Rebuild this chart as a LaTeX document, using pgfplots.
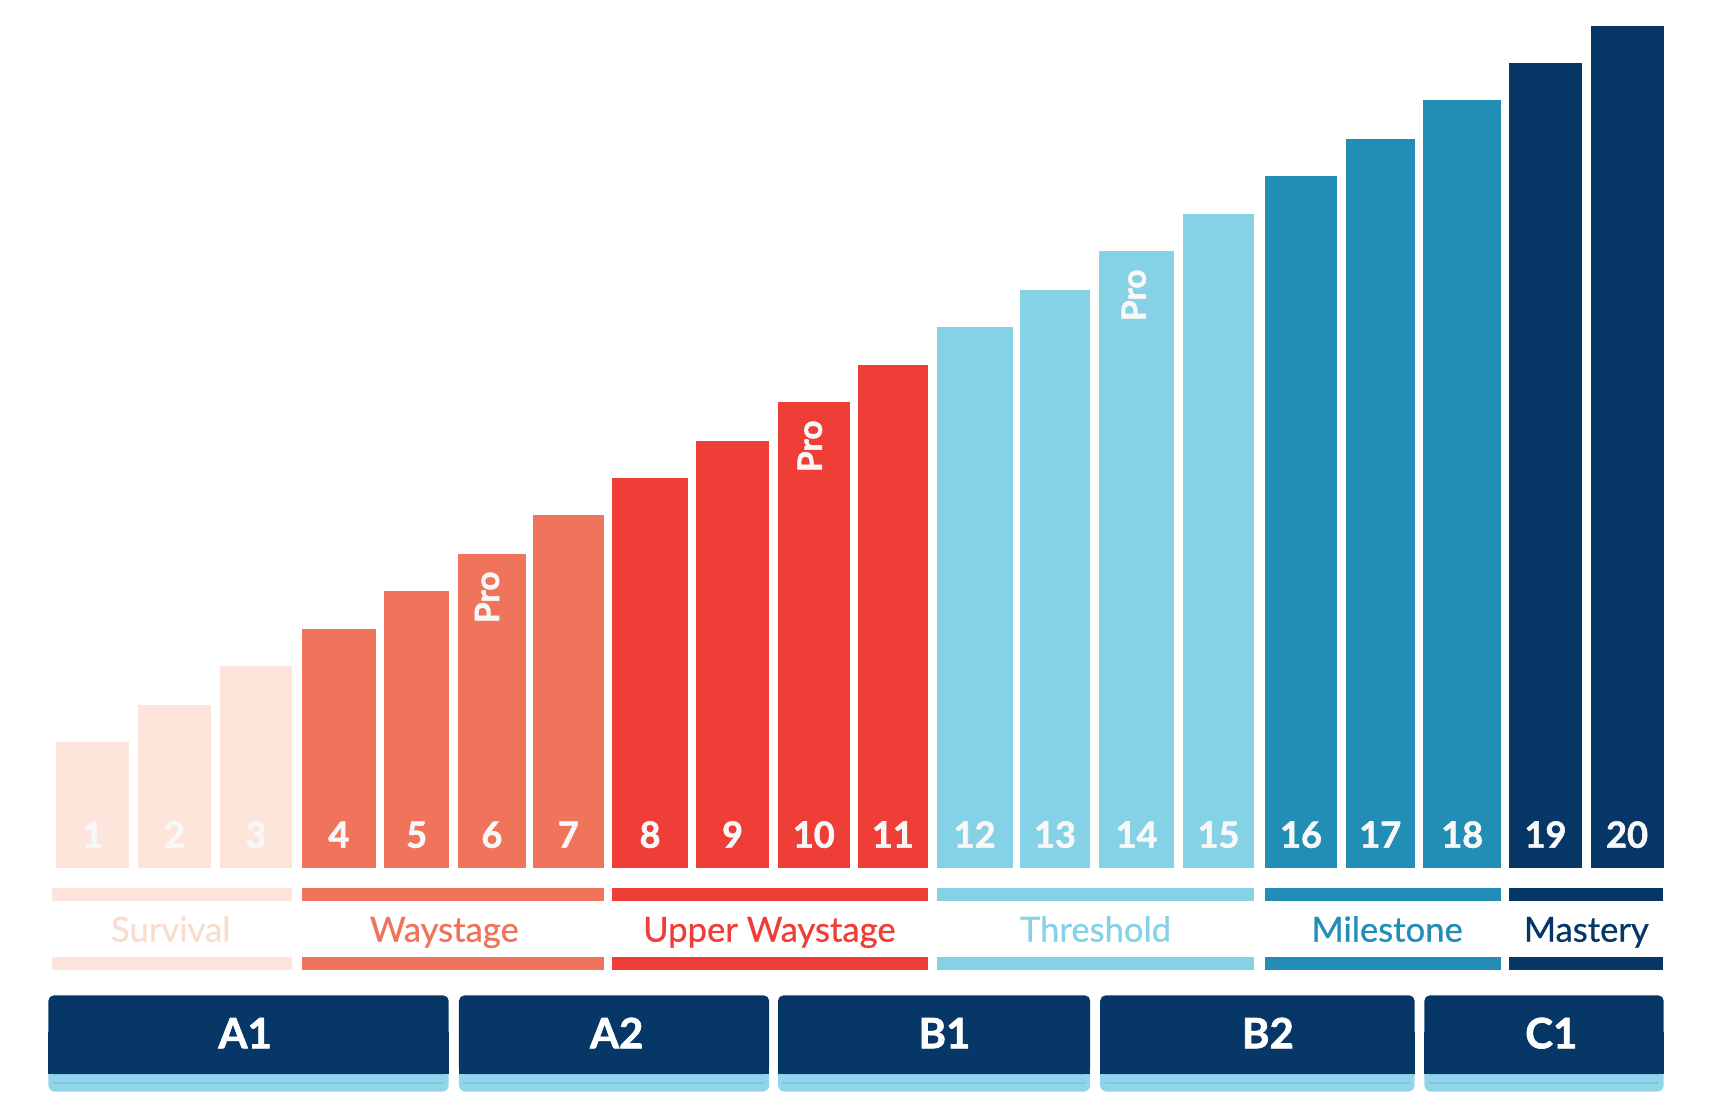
\documentclass[border=0pt]{standalone}
\usepackage{pgfplots}
\pgfplotsset{compat=1.18}
\usepackage{fontspec}
\setmainfont{Lato}
\newfontfamily\heavyfont[FakeBold=1.6]{Lato Bold}
\newfontfamily\medfont[FakeBold=0.7]{Lato}
\definecolor{surv}{HTML}{FDE5DB}
\definecolor{survtext}{HTML}{FADCCF}
\definecolor{way}{HTML}{F0745C}
\definecolor{upper}{HTML}{EE3E37}
\definecolor{thresh}{HTML}{85D1E5}
\definecolor{mile}{HTML}{228EB6}
\definecolor{mast}{HTML}{063767}
\definecolor{strip}{HTML}{92D5EB}
\definecolor{stripline}{HTML}{7CC9E3}
\definecolor{numw}{HTML}{F8F8F8}
\newcommand{\onebar}[4]{\addplot[ybar, bar shift=0pt, bar width=#3, fill=#4, draw=none] coordinates {(#1,#2)};}
\newcommand{\numfont}{\heavyfont\fontsize{9.4}{10}\selectfont}
\newcommand{\grpfont}{\medfont\fontsize{9.0}{10}\selectfont}
\newcommand{\ceffont}{\heavyfont\fontsize{10.9}{12}\selectfont}
\newcommand{\profont}{\heavyfont\fontsize{8.7}{10}\selectfont}
\newcommand{\cefbox}[3]{%
  \fill[strip, rounded corners=0.6mm] (axis cs:#1,-204.7) rectangle (axis cs:#2,-182);
  \draw[stripline, line width=0.24mm] (axis cs:#1+4,-196.8) -- (axis cs:#2-4,-196.8);
  \fill[mast, rounded corners=0.5mm] (axis cs:#1,-116.7) rectangle (axis cs:#2,-188.6);
  \fill[mast] (axis cs:#1,-150) rectangle (axis cs:#2,-188.6);
}
\begin{document}
\begin{tikzpicture}
\begin{axis}[
  scale only axis, width=156.8mm, height=102.2mm,
  xmin=0, xmax=1568, ymin=-229.2, ymax=792.8,
  hide axis, clip=false,
]
\path (axis cs:0,-229.2) rectangle (axis cs:1568,792.8);
% bars: centre, height, width, colour
\onebar{84.7}{115}{67.2}{surv}
\onebar{159.4}{149}{66.7}{surv}
\onebar{233.9}{184}{66.2}{surv}
\onebar{309.6}{218}{67.2}{way}
\onebar{380.8}{253}{59.8}{way}
\onebar{449.5}{287}{61.9}{way}
\onebar{519.4}{322}{64.7}{way}
\onebar{594.0}{356}{68.9}{upper}
\onebar{669.4}{390}{66.5}{upper}
\onebar{743.6}{425}{66.2}{upper}
\onebar{815.9}{459}{63.9}{upper}
\onebar{890.6}{494}{69.3}{thresh}
\onebar{964.0}{528}{64.3}{thresh}
\onebar{1038.5}{563}{68.5}{thresh}
\onebar{1113.4}{597}{64.8}{thresh}
\onebar{1188.8}{632}{66.4}{mile}
\onebar{1261.2}{666}{62.7}{mile}
\onebar{1336.1}{701}{70.8}{mile}
\onebar{1412.2}{735}{66.7}{mast}
\onebar{1486.7}{769}{66.7}{mast}
% level numbers
\begin{scope}[every node/.style={text=numw, font=\numfont, anchor=base, inner sep=0pt}]
\node at (axis cs:84.7,18.2) {1};
\node at (axis cs:159.4,18.2) {2};
\node at (axis cs:233.9,18.2) {3};
\node at (axis cs:309.6,18.2) {4};
\node at (axis cs:380.8,18.2) {5};
\node at (axis cs:449.5,18.2) {6};
\node at (axis cs:519.4,18.2) {7};
\node at (axis cs:594.0,18.2) {8};
\node at (axis cs:669.4,18.2) {9};
\node at (axis cs:743.6,18.2) {10};
\node at (axis cs:815.9,18.2) {11};
\node at (axis cs:890.6,18.2) {12};
\node at (axis cs:964.0,18.2) {13};
\node at (axis cs:1038.5,18.2) {14};
\node at (axis cs:1113.4,18.2) {15};
\node at (axis cs:1188.8,18.2) {16};
\node at (axis cs:1261.2,18.2) {17};
\node at (axis cs:1336.1,18.2) {18};
\node at (axis cs:1412.2,18.2) {19};
\node at (axis cs:1486.7,18.2) {20};
\end{scope}
% Pro labels
\begin{scope}[every node/.style={text=numw, font=\profont, rotate=90, anchor=center, inner sep=0pt}]
\node at (axis cs:445,247) {Pro};
\node at (axis cs:740,385) {Pro};
\node at (axis cs:1036,523) {Pro};
\end{scope}
% group bands
\fill[surv] (axis cs:47.3,-18.9) rectangle (axis cs:267,-30.5);
\fill[surv] (axis cs:47.3,-81.9) rectangle (axis cs:267,-93.6);
\fill[way] (axis cs:276,-18.9) rectangle (axis cs:551.7,-30.5);
\fill[way] (axis cs:276,-81.9) rectangle (axis cs:551.7,-93.6);
\fill[upper] (axis cs:559.5,-18.9) rectangle (axis cs:847.8,-30.5);
\fill[upper] (axis cs:559.5,-81.9) rectangle (axis cs:847.8,-93.6);
\fill[thresh] (axis cs:855.9,-18.9) rectangle (axis cs:1145.8,-30.5);
\fill[thresh] (axis cs:855.9,-81.9) rectangle (axis cs:1145.8,-93.6);
\fill[mile] (axis cs:1155.6,-18.9) rectangle (axis cs:1371.5,-30.5);
\fill[mile] (axis cs:1155.6,-81.9) rectangle (axis cs:1371.5,-93.6);
\fill[mast] (axis cs:1378.8,-18.9) rectangle (axis cs:1519.6,-30.5);
\fill[mast] (axis cs:1378.8,-81.9) rectangle (axis cs:1519.6,-93.6);
\begin{scope}[every node/.style={font=\grpfont, anchor=base, inner sep=0pt}]
\node[text=survtext] at (axis cs:156,-67.7) {Survival};
\node[text=way] at (axis cs:406,-67.7) {Waystage};
\node[text=upper] at (axis cs:703,-67.7) {Upper Waystage};
\node[text=thresh] at (axis cs:1001,-67.7) {Threshold};
\node[text=mile] at (axis cs:1267.5,-67.7) {Milestone};
\node[text=mast] at (axis cs:1449.5,-67.7) {Mastery};
\end{scope}
% CEFR boxes
\cefbox{44.2}{410}{A1}
\cefbox{419.4}{702.8}{A2}
\cefbox{710.9}{996.2}{B1}
\cefbox{1005.3}{1292.6}{B2}
\cefbox{1301.5}{1520.2}{C1}
\begin{scope}[every node/.style={text=white, font=\ceffont, anchor=base, inner sep=0pt}]
\node at (axis cs:224,-165.1) {A1};
\node at (axis cs:563.5,-165.1) {A2};
\node at (axis cs:863,-165.1) {B1};
\node at (axis cs:1158.5,-165.1) {B2};
\node at (axis cs:1417.5,-165.1) {C1};
\end{scope}
\end{axis}
\end{tikzpicture}
\end{document}
